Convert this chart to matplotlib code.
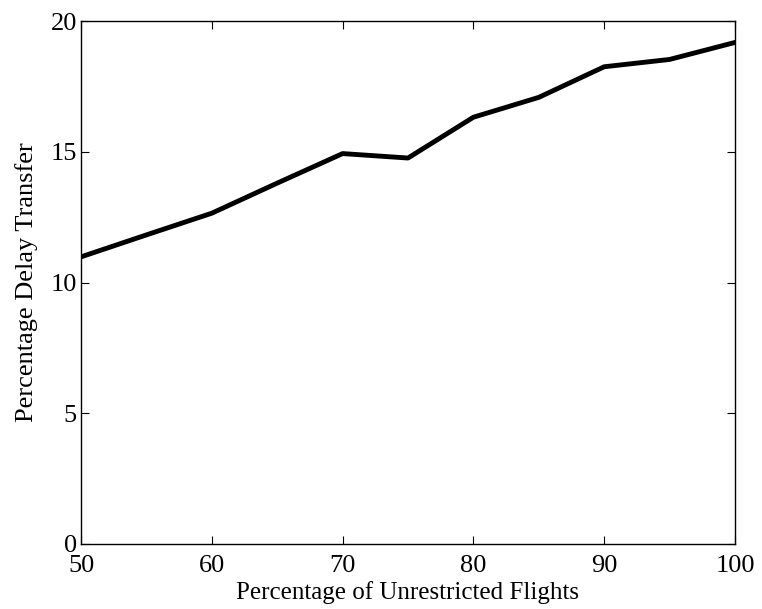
import numpy as np
import matplotlib.pyplot as plt

# percentage of unrestricted flights vs delay transfer
unrestricted = [50, 55, 60, 65, 70, 75, 80, 85, 90, 95, 100]
delay_transfer = [10.98, 11.82, 12.65, 13.8, 14.93, 14.76, 16.32, 17.08, 18.25, 18.53, 19.18]

x_ticks = [50, 60, 70, 80, 90, 100]
y_ticks = [0, 5, 10, 15, 20]

plt.rcParams['font.family'] = ['Liberation Serif', 'DejaVu Serif']

fig = plt.figure(figsize=(7.62, 6.09), dpi=100)
ax = fig.add_axes([81 / 762, 1 - 544 / 609, (735 - 81) / 762, (544 - 21) / 609])

ax.plot(unrestricted, delay_transfer, '-', color='black', linewidth=3.5)

ax.set_xlim(50, 100)
ax.set_ylim(0, 20)
ax.set_xticks(x_ticks)
ax.set_yticks(y_ticks)
ax.tick_params(direction='in', top=True, right=True, length=6, width=0.8,
               labelsize=19)
ax.tick_params(axis='x', pad=8)
ax.tick_params(axis='y', pad=3)
for s in ax.spines.values():
    s.set_linewidth(1.0)

ax.set_xlabel('Percentage of Unrestricted Flights', fontsize=18, labelpad=3)
ax.set_ylabel('Percentage Delay Transfer', fontsize=19, labelpad=9)

fig.savefig('out.png', dpi=100)
